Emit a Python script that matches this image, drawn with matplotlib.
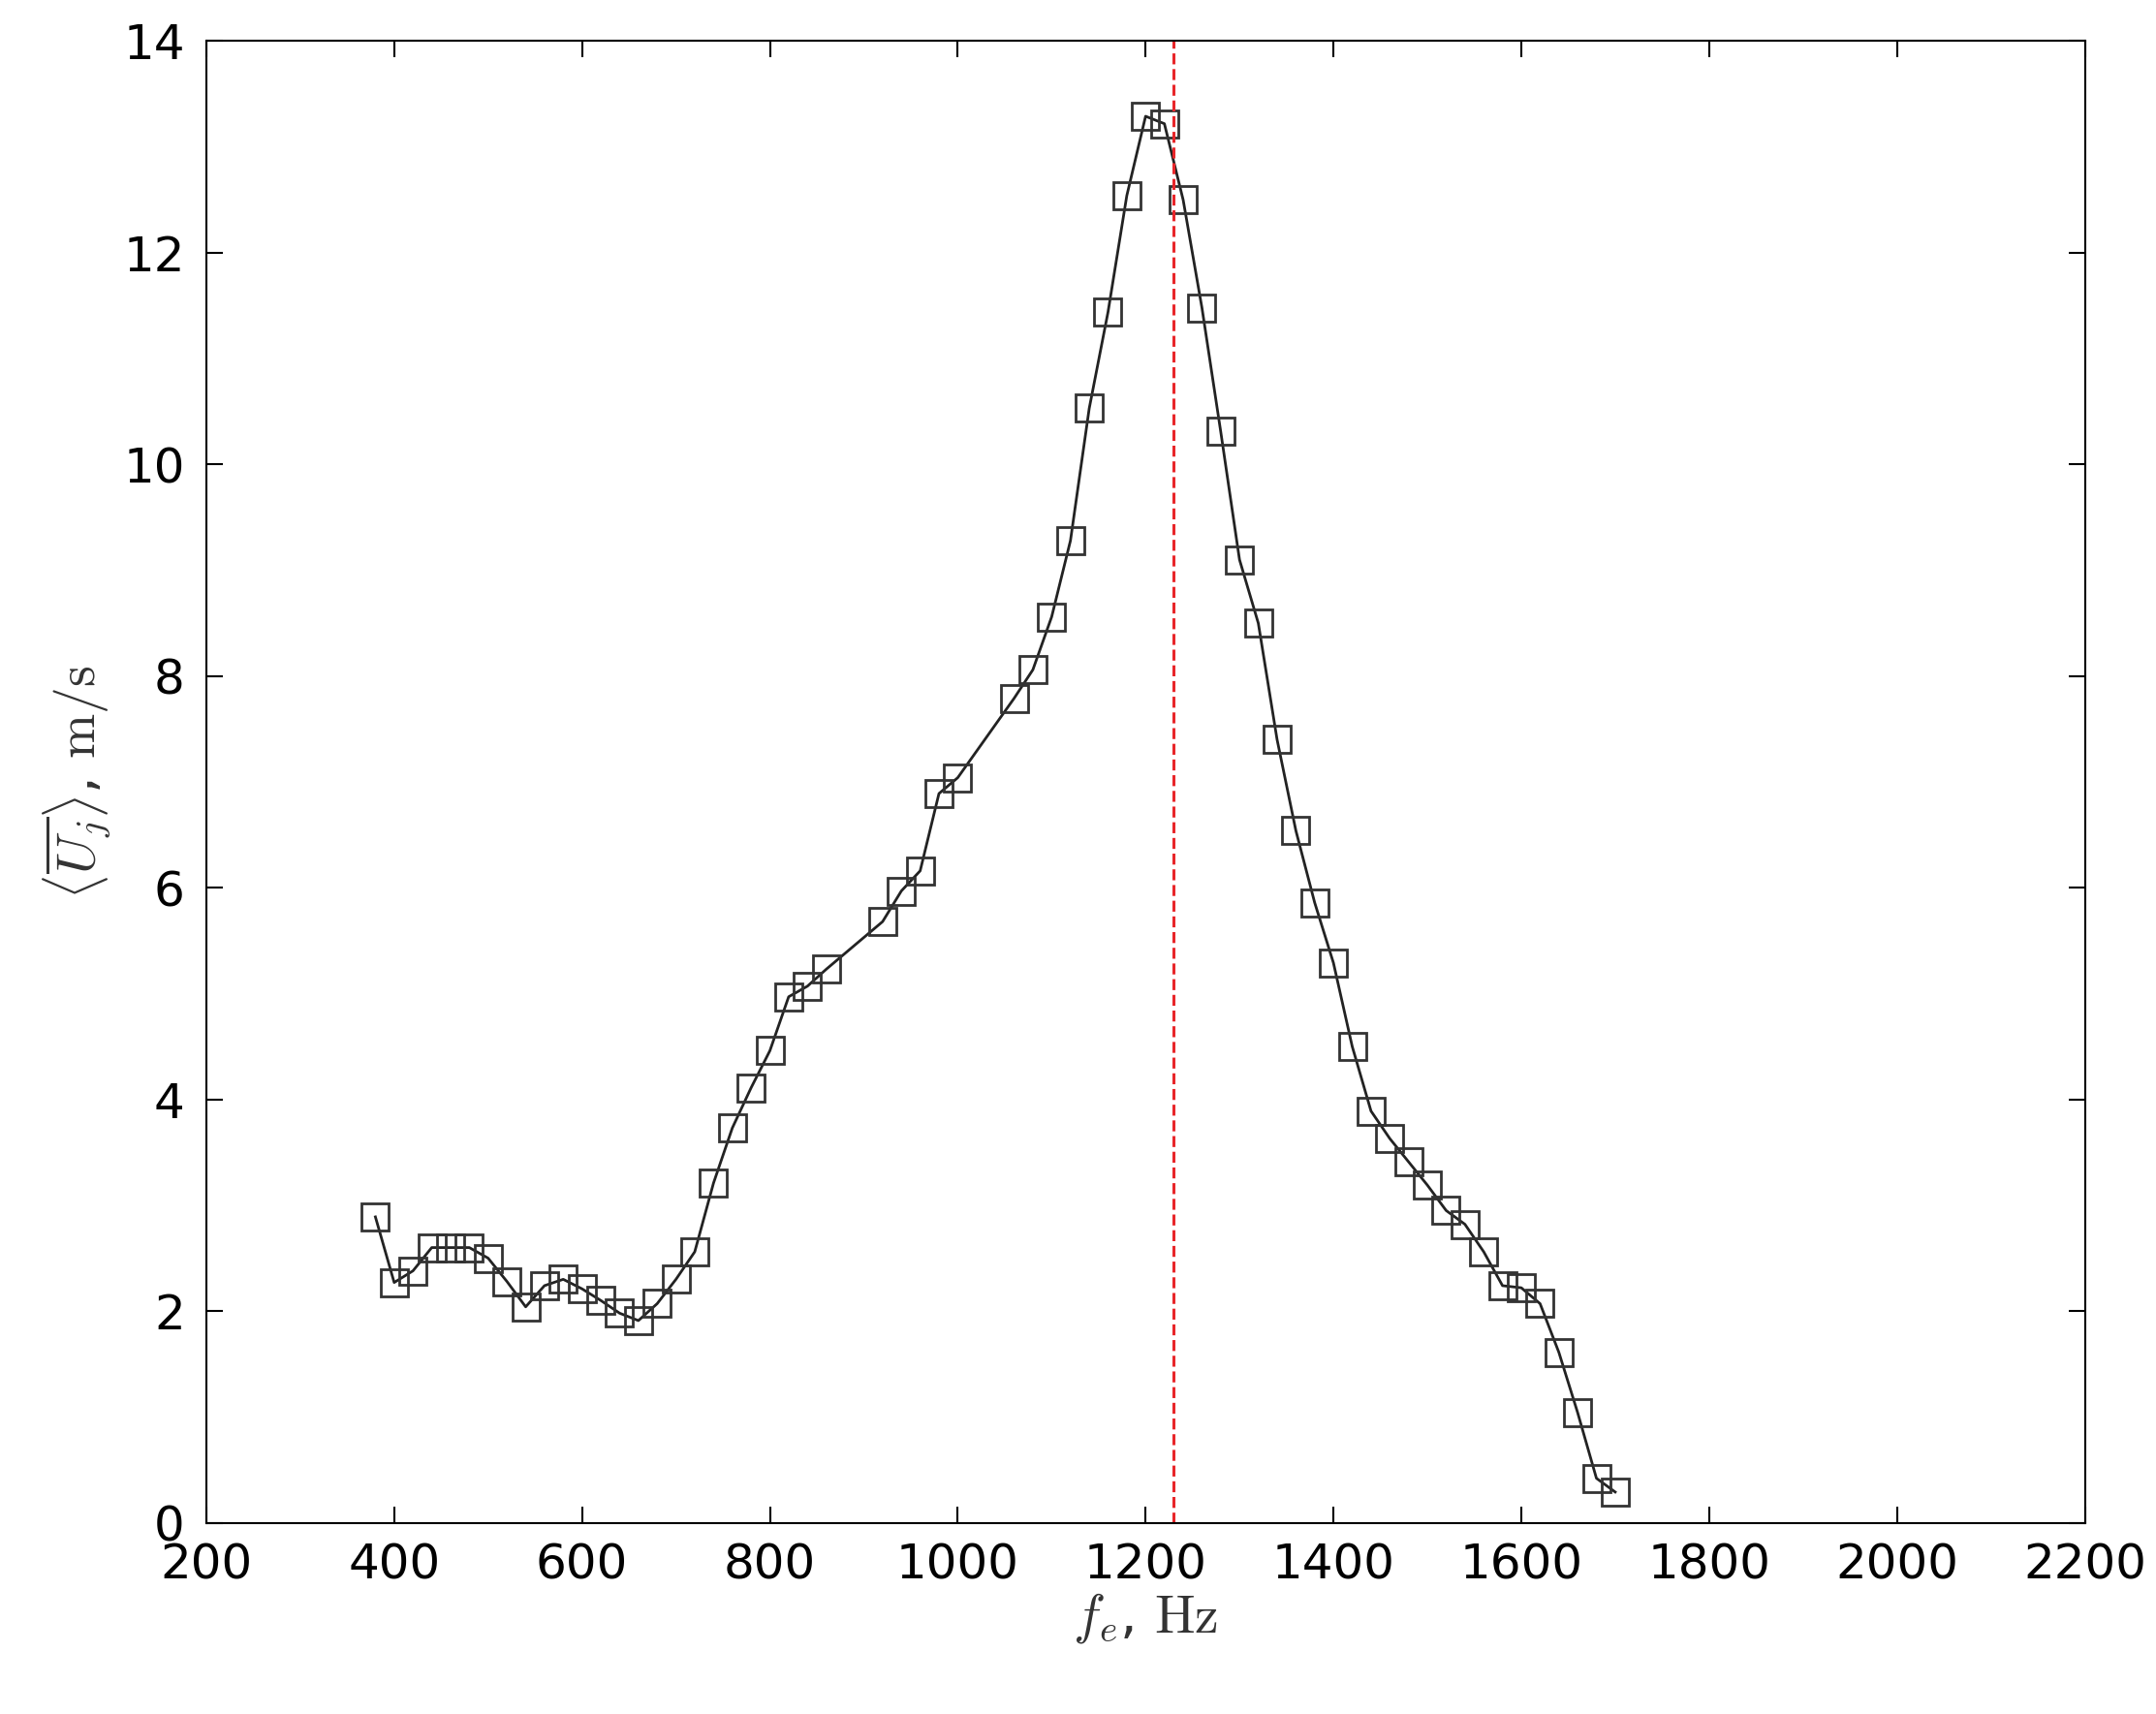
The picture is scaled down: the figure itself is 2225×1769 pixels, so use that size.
import matplotlib
matplotlib.use("Agg")
import matplotlib.pyplot as plt
plt.rcParams['mathtext.fontset'] = 'cm'

freq = [380, 400, 420, 440, 460, 480, 500, 520, 540, 560, 580, 600, 620, 640, 660, 680, 700, 720, 740, 760,
        780, 800, 820, 840, 860, 920, 940, 960, 980, 1000, 1060, 1080, 1100, 1120, 1140, 1160, 1180, 1200,
        1220, 1240, 1260, 1280, 1300, 1320, 1340, 1360, 1380, 1400, 1420, 1440, 1460, 1480, 1500, 1520,
        1540, 1560, 1580, 1600, 1620, 1640, 1660, 1680, 1700]
uj = [2.89, 2.27, 2.38, 2.6, 2.6, 2.6, 2.5, 2.28, 2.04, 2.24, 2.3, 2.21, 2.1, 1.98, 1.91, 2.07, 2.3, 2.56, 3.21, 3.73,
      4.11, 4.46, 4.97, 5.07, 5.23, 5.68, 5.97, 6.16, 6.89, 7.04, 7.79, 8.06, 8.56, 9.28, 10.53, 11.44, 12.54, 13.29,
      13.22, 12.5, 11.48, 10.31, 9.1, 8.5, 7.4, 6.54, 5.86, 5.29, 4.5, 3.89, 3.63, 3.41, 3.19, 2.95,
      2.82, 2.56, 2.24, 2.22, 2.07, 1.61, 1.04, 0.42, 0.29]
f_res = 1230

fig = plt.figure(figsize=(22.25, 17.69), dpi=100)
ax = fig.add_axes([0.0957, 0.1116, 0.8713, 0.8644])
ax.plot(freq, uj, '-', color='#222222', lw=2.0, marker='s', markersize=20,
        markerfacecolor='none', markeredgecolor='#333333', markeredgewidth=2.0)
ax.axvline(f_res, color='#e8262a', ls='--', lw=2.2)
ax.set_xlim(200, 2200)
ax.set_ylim(0, 14)
ax.set_xticks(range(200, 2201, 200))
ax.set_yticks(range(0, 15, 2))
ax.tick_params(axis='x', pad=14)
ax.tick_params(axis='y', pad=16)
ax.tick_params(labelsize=36, direction='in', length=12, width=1.5, top=True, right=True)
for s in ax.spines.values():
    s.set_linewidth(1.5)
ax.set_xlabel(r'$f_e$, $\mathrm{Hz}$', fontsize=40, color='#333333', labelpad=2)
ax.set_ylabel(r'$\langle\overline{U_j}\rangle$, $\mathrm{m/s}$', fontsize=40, color='#333333', labelpad=8)
fig.savefig('out.png', dpi=100)
